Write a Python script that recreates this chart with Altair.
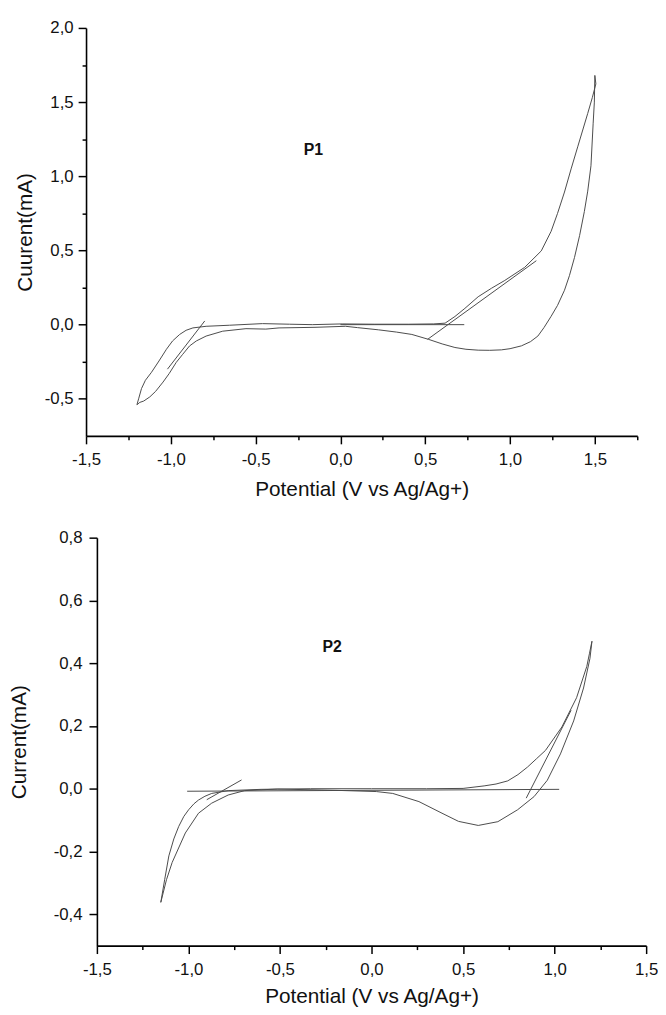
import altair as alt
import pandas as pd

# ---------------- P1 (top panel) ----------------
p1_cv_v = [-1.20, -1.19, -1.173, -1.15, -1.114, -1.07, -1.026, -0.99, -0.948, -0.91, -0.87,
           -0.792, -0.655, -0.46, -0.30, -0.166, 0.01, 0.20, 0.40, 0.55, 0.617, 0.675, 0.734,
           0.812, 0.89, 0.969, 1.086, 1.184, 1.242, 1.28, 1.321, 1.36, 1.40, 1.458, 1.485,
           1.506, 1.50,
           1.497, 1.49, 1.477, 1.458, 1.438, 1.41, 1.38, 1.35, 1.321, 1.28, 1.242, 1.20, 1.164,
           1.12, 1.067, 1.00, 0.949, 0.88, 0.812, 0.74, 0.675, 0.60, 0.519, 0.421, 0.33, 0.225,
           0.10, 0.03, -0.15, -0.362, -0.44, -0.557, -0.694, -0.792, -0.85, -0.89, -0.93,
           -0.968, -1.01, -1.046, -1.09, -1.124, -1.16, -1.183, -1.20]
p1_cv_i = [-0.54, -0.50, -0.431, -0.375, -0.321, -0.245, -0.166, -0.11, -0.066, -0.038, -0.022,
           -0.011, -0.004, 0.007, 0.003, 0.0, 0.005, 0.003, 0.003, 0.005, 0.01, 0.055, 0.11,
           0.188, 0.245, 0.298, 0.386, 0.497, 0.629, 0.75, 0.894, 1.05, 1.203, 1.424, 1.53,
           1.623, 1.68,
           1.50, 1.358, 1.071, 0.90, 0.762, 0.60, 0.453, 0.33, 0.232, 0.13, 0.056, -0.02, -0.077,
           -0.115, -0.143, -0.162, -0.17, -0.173, -0.172, -0.166, -0.154, -0.13, -0.099, -0.066,
           -0.05, -0.035, -0.02, -0.011, -0.018, -0.022, -0.03, -0.027, -0.044, -0.077, -0.11,
           -0.144, -0.20, -0.254, -0.33, -0.387, -0.45, -0.487, -0.515, -0.524, -0.54]
p1_tan_left_v = [-0.80, -1.02]
p1_tan_left_i = [0.025, -0.30]
p1_tan_right_v = [0.514, 1.155]
p1_tan_right_i = [-0.099, 0.431]
p1_base_v = [0.0, 0.73]
p1_base_i = [0.0, 0.0]
p1_label = ["P1"]
p1_label_v = [-0.16]
p1_label_i = [1.18]

# ---------------- P2 (bottom panel) ----------------
p2_cv_v = [-1.151, -1.13, -1.107, -1.08, -1.053, -1.025, -0.999, -0.97, -0.945, -0.91, -0.873,
           -0.783, -0.603, -0.334, 0.0, 0.30, 0.50, 0.615, 0.68, 0.744, 0.80, 0.852, 0.90, 0.95,
           1.04, 1.12, 1.176, 1.19, 1.204,
           1.193, 1.158, 1.104, 1.032, 0.96, 0.888, 0.798, 0.69, 0.583, 0.475, 0.385, 0.259,
           0.116, 0.026, -0.20, -0.514, -0.693, -0.783, -0.873, -0.945, -1.017, -1.089, -1.12,
           -1.151]
p2_cv_i = [-0.362, -0.29, -0.214, -0.16, -0.12, -0.088, -0.067, -0.048, -0.036, -0.024, -0.015,
           -0.006, -0.002, 0.0, 0.0, 0.0, 0.001, 0.009, 0.015, 0.025, 0.045, 0.069, 0.095, 0.122,
           0.197, 0.29, 0.39, 0.43, 0.47,
           0.415, 0.321, 0.216, 0.111, 0.027, -0.025, -0.067, -0.105, -0.117, -0.104, -0.078,
           -0.041, -0.015, -0.009, -0.005, -0.001, -0.006, -0.02, -0.046, -0.078, -0.141, -0.235,
           -0.29, -0.362]
p2_tan_left_v = [-0.71, -0.90]
p2_tan_left_i = [0.028, -0.035]
p2_tan_right_v = [0.845, 1.09]
p2_tan_right_i = [-0.03, 0.25]
p2_base_v = [-1.007, 1.025]
p2_base_i = [-0.008, -0.002]
p2_label = ["P2"]
p2_label_v = [-0.215]
p2_label_i = [0.452]

# ---------------- axis ticks ----------------
top_x_ticks = [-1.5, -1.25, -1.0, -0.75, -0.5, -0.25, 0.0, 0.25, 0.5, 0.75, 1.0, 1.25, 1.5, 1.75]
top_y_ticks = [-0.5, -0.25, 0.0, 0.25, 0.5, 0.75, 1.0, 1.25, 1.5, 1.75, 2.0]
bot_x_ticks = [-1.5, -1.25, -1.0, -0.75, -0.5, -0.25, 0.0, 0.25, 0.5, 0.75, 1.0, 1.25, 1.5]
bot_y_ticks = [-0.4, -0.3, -0.2, -0.1, 0.0, 0.1, 0.2, 0.3, 0.4, 0.5, 0.6, 0.7, 0.8]

FONT = "Liberation Sans"
LINE = "#4a4a4a"


def frame(seg_list):
    rows = []
    for name, vs, cs in seg_list:
        for k, (v, c) in enumerate(zip(vs, cs)):
            rows.append({"seg": name, "k": k, "V": v, "I": c})
    return pd.DataFrame(rows)


def major_test(mult):
    return f"abs(datum.value*{mult} - round(datum.value*{mult})) < 0.01"


def label_expr(mult):
    return (f"{major_test(mult)} ? (datum.value < -0.001 ? '-' : '') + "
            "replace(format(abs(datum.value), '.1f'), '.', ',') : ''")


def make_axis(title, ticks, mult, major, minor, label_pad, title_pad, offset=0):
    return alt.Axis(
        title=title, values=ticks, labelExpr=label_expr(mult),
        tickSize={"condition": {"test": major_test(mult), "value": major}, "value": minor},
        grid=False, labelOverlap=False, labelFlush=False, offset=offset,
        domainColor="#000", domainWidth=1.6, tickColor="#000", tickWidth=1.5,
        labelFont=FONT, labelFontSize=17, labelColor="#111", labelPadding=label_pad,
        titleFont=FONT, titleFontSize=21, titleFontWeight="normal", titleColor="#111",
        titlePadding=title_pad,
    )


def panel(segs, lab, lab_v, lab_i, xdom, ydom, xaxis, yaxis, w, h, xrange=None):
    df = frame(segs)
    if xrange is None:
        xs = alt.Scale(domain=xdom, nice=False, zero=False)
    else:
        xs = alt.Scale(domain=xdom, nice=False, zero=False, range=xrange)
    ys = alt.Scale(domain=ydom, nice=False, zero=False)
    lines = alt.Chart(df).mark_line(color=LINE, strokeWidth=1.0).encode(
        x=alt.X("V:Q", scale=xs, axis=xaxis),
        y=alt.Y("I:Q", scale=ys, axis=yaxis),
        detail="seg:N",
        order="k:Q",
    )
    tdf = pd.DataFrame({"t": lab, "V": lab_v, "I": lab_i})
    txt = alt.Chart(tdf).mark_text(font=FONT, fontSize=16, fontWeight="bold",
                                   color="#111").encode(
        x=alt.X("V:Q", scale=xs), y=alt.Y("I:Q", scale=ys), text="t:N")
    return alt.layer(lines, txt).properties(width=w, height=h)


# top panel: its y axis sits 11px left of the bottom panel's one
top = panel(
    [("cv", p1_cv_v, p1_cv_i), ("tl", p1_tan_left_v, p1_tan_left_i),
     ("tr", p1_tan_right_v, p1_tan_right_i), ("b", p1_base_v, p1_base_i)],
    p1_label, p1_label_v, p1_label_i,
    [-1.5, 1.75], [-0.75, 2.0],
    make_axis("Potential (V vs Ag/Ag+)", top_x_ticks, 2, 8, 4, 8, 11),
    make_axis("Cuurent(mA)", top_y_ticks, 2, 8, 4, 5, 9, offset=11),
    547, 413, xrange=[-11, 547],
)

bottom = panel(
    [("cv", p2_cv_v, p2_cv_i), ("tl", p2_tan_left_v, p2_tan_left_i),
     ("tr", p2_tan_right_v, p2_tan_right_i), ("b", p2_base_v, p2_base_i)],
    p2_label, p2_label_v, p2_label_i,
    [-1.5, 1.5], [-0.5, 0.8],
    make_axis("Potential (V vs Ag/Ag+)", bot_x_ticks, 2, 8, 4, 8, 9),
    make_axis("Current(mA)", bot_y_ticks, 5, 8, 4, 7, 24),
    556, 413,
)

chart = alt.vconcat(top, bottom, spacing=30).properties(
    padding={"left": 0, "top": 5, "right": 0, "bottom": 0},
    background="white",
).configure_view(stroke=None, strokeWidth=0)

chart.save("out.html", embed_options={"renderer": "svg", "actions": False})
